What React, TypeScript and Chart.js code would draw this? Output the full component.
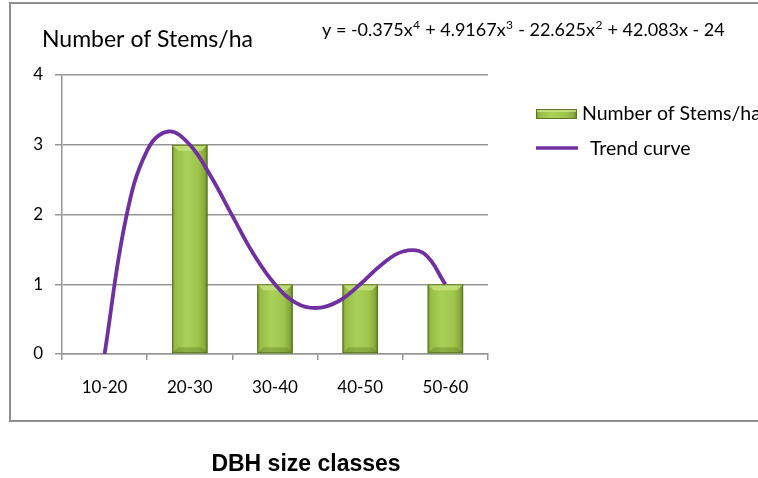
import React, { useEffect, useRef } from "react";
import { Chart, registerables } from "chart.js";

Chart.register(...registerables);

const categories = ["10-20", "20-30", "30-40", "40-50", "50-60"];
const stems = [0, 3, 1, 1, 1];
const trendX = [1, 1.25, 1.5, 1.75, 2, 2.25, 2.5, 2.75, 3, 3.25, 3.5, 3.75, 4, 4.25, 4.5, 4.75, 5];
const trendY = [0, 1.94, 2.92, 3.19, 3.0, 2.54, 1.98, 1.43, 1.0, 0.73, 0.66, 0.76, 1.0, 1.28, 1.47, 1.44, 1.0];
const yTicks = [0, 1, 2, 3, 4];
const chartTitle = "Number of Stems/ha";
const xTitle = "DBH size classes";
const equationParts: [string, string][] = [
  ["y = -0.375x", "4"],
  [" + 4.9167x", "3"],
  [" - 22.625x", "2"],
  [" + 42.083x - 24", ""],
];

const FONT = "Lato, 'Open Sans', sans-serif";
const GRID = "#969696";
const PURPLE = "#7030a0";

function barGradient(ctx: CanvasRenderingContext2D, x0: number, x1: number) {
  const g = ctx.createLinearGradient(x0, 0, x1, 0);
  g.addColorStop(0, "#6d8e2a");
  g.addColorStop(0.08, "#95bd45");
  g.addColorStop(0.4, "#a9d058");
  g.addColorStop(0.75, "#9ec44c");
  g.addColorStop(0.92, "#86a83a");
  g.addColorStop(1, "#5f7e22");
  return g;
}

const decorPlugin = {
  id: "decor",
  beforeDraw(chart: any) {
    const ctx = chart.ctx as CanvasRenderingContext2D;
    ctx.save();
    ctx.fillStyle = "#ffffff";
    ctx.fillRect(0, 0, chart.width, chart.height);
    ctx.strokeStyle = "#8e8e8e";
    ctx.lineWidth = 2;
    ctx.strokeRect(10, 3, 760, 418);
    ctx.restore();
  },
  afterDatasetDraw(chart: any, args: any) {
    if (args.index !== 0) return;
    const ctx = chart.ctx as CanvasRenderingContext2D;
    const meta = chart.getDatasetMeta(0);
    ctx.save();
    meta.data.forEach((bar: any) => {
      const x0 = bar.x - bar.width / 2;
      const x1 = bar.x + bar.width / 2;
      const top = bar.y;
      const base = bar.base;
      if (base - top < 1) return;
      const b = Math.min(6, (base - top) / 2);
      ctx.fillStyle = "rgba(200,228,130,0.8)";
      ctx.beginPath();
      ctx.moveTo(x0, top);
      ctx.lineTo(x1, top);
      ctx.lineTo(x1 - b, top + b);
      ctx.lineTo(x0 + b, top + b);
      ctx.closePath();
      ctx.fill();
      ctx.fillStyle = "rgba(80,105,30,0.3)";
      ctx.beginPath();
      ctx.moveTo(x0, base);
      ctx.lineTo(x1, base);
      ctx.lineTo(x1 - b, base - b);
      ctx.lineTo(x0 + b, base - b);
      ctx.closePath();
      ctx.fill();
      ctx.strokeStyle = "#5c7724";
      ctx.lineWidth = 1;
      ctx.strokeRect(x0 + 0.5, top + 0.5, bar.width - 1, base - top - 1);
    });
    ctx.restore();
  },
  afterDraw(chart: any) {
    const ctx = chart.ctx as CanvasRenderingContext2D;
    ctx.save();
    ctx.fillStyle = "#000";
    ctx.textBaseline = "alphabetic";
    // chart title
    ctx.font = `23px ${FONT}`;
    ctx.textAlign = "left";
    ctx.fillText(chartTitle, 42, 47);
    // equation
    let x = 322;
    const by = 36;
    equationParts.forEach(([t, s]) => {
      ctx.font = `18px ${FONT}`;
      ctx.fillText(t, x, by);
      x += ctx.measureText(t).width;
      if (s) {
        ctx.font = `12px ${FONT}`;
        ctx.fillText(s, x + 0.5, by - 7);
        x += ctx.measureText(s).width + 1;
      }
    });
    // legend
    const ds = chart.data.datasets;
    ctx.fillStyle = barGradient(ctx, 536, 577);
    ctx.fillRect(536, 109, 41, 10);
    ctx.fillStyle = "rgba(200,228,130,0.8)";
    ctx.fillRect(537, 109, 39, 3);
    ctx.strokeStyle = "#5c7724";
    ctx.lineWidth = 1;
    ctx.strokeRect(536.5, 109.5, 40, 9);
    ctx.fillStyle = "#000";
    ctx.font = `19.5px ${FONT}`;
    ctx.textBaseline = "middle";
    ctx.fillText(ds[0].label, 582, 114);
    ctx.strokeStyle = PURPLE;
    ctx.lineWidth = 3.5;
    ctx.beginPath();
    ctx.moveTo(536, 148);
    ctx.lineTo(578, 148);
    ctx.stroke();
    ctx.fillText(ds[1].label, 590, 149);
    // x title
    ctx.font = `bold 23px 'Liberation Sans', Arial, sans-serif`;
    ctx.textAlign = "center";
    ctx.textBaseline = "alphabetic";
    ctx.fillText(xTitle, 306, 471);
    ctx.restore();
  },
};

export default function App() {
  const ref = useRef<HTMLCanvasElement>(null);
  useEffect(() => {
    if (!ref.current) return;
    const chart = new Chart(ref.current, {
      type: "bar",
      data: {
        labels: categories,
        datasets: [
          {
            type: "bar",
            label: "Number of Stems/ha",
            data: stems,
            xAxisID: "x",
            backgroundColor: (c: any) => {
              const ch = c.chart;
              const area = ch.chartArea;
              if (!area || c.dataIndex === undefined) return "#9bbb59";
              const cx = ch.scales.x.getPixelForValue(c.dataIndex);
              const w = ((area.right - area.left) / categories.length) * 0.416;
              return barGradient(ch.ctx, cx - w / 2, cx + w / 2);
            },
            borderWidth: 0,
            barPercentage: 0.416,
            categoryPercentage: 1,
            grouped: false,
            order: 2,
          } as any,
          {
            type: "line",
            label: "Trend curve",
            data: trendX.map((xv, i) => ({ x: xv, y: trendY[i] })),
            xAxisID: "x2",
            borderColor: PURPLE,
            borderWidth: 3.8,
            pointRadius: 0,
            tension: 0.4,
            fill: false,
            order: 1,
          } as any,
        ],
      },
      options: {
        animation: false,
        responsive: false,
        layout: { padding: { left: 0, top: 75, right: 270, bottom: 0 } },
        plugins: {
          legend: { display: false },
          tooltip: { enabled: false },
          title: { display: false },
        },
        scales: {
          x: {
            type: "category",
            position: "bottom",
            grid: {
              display: true,
              drawOnChartArea: false,
              drawTicks: true,
              tickLength: 6,
              offset: true,
              color: GRID,
              lineWidth: 1.5,
            },
            border: { display: true, color: GRID, width: 1.5 },
            ticks: { color: "#000", font: { family: FONT, size: 17 }, padding: 17 },
            afterFit: (s: any) => {
              s.height = 478 - 354;
            },
          },
          x2: {
            type: "linear",
            display: false,
            offset: false,
            min: 0.5,
            max: 5.5,
          },
          y: {
            type: "linear",
            min: yTicks[0],
            max: yTicks[yTicks.length - 1],
            afterBuildTicks: (s: any) => {
              s.ticks = yTicks.map((v) => ({ value: v }));
            },
            grid: { color: GRID, lineWidth: 1.5, tickLength: 7 },
            border: { display: true, color: GRID, width: 1.5 },
            ticks: { color: "#000", font: { family: FONT, size: 17 }, padding: 12 },
            afterFit: (s: any) => {
              s.width = 62;
            },
          },
        },
      } as any,
      plugins: [decorPlugin],
    });
    return () => chart.destroy();
  }, []);
  return (
    <div style={{ position: "fixed", left: 0, top: 0, width: 758, height: 478, background: "#fff" }}>
      <canvas ref={ref} width={758} height={478} style={{ width: 758, height: 478, display: "block" }} />
    </div>
  );
}
